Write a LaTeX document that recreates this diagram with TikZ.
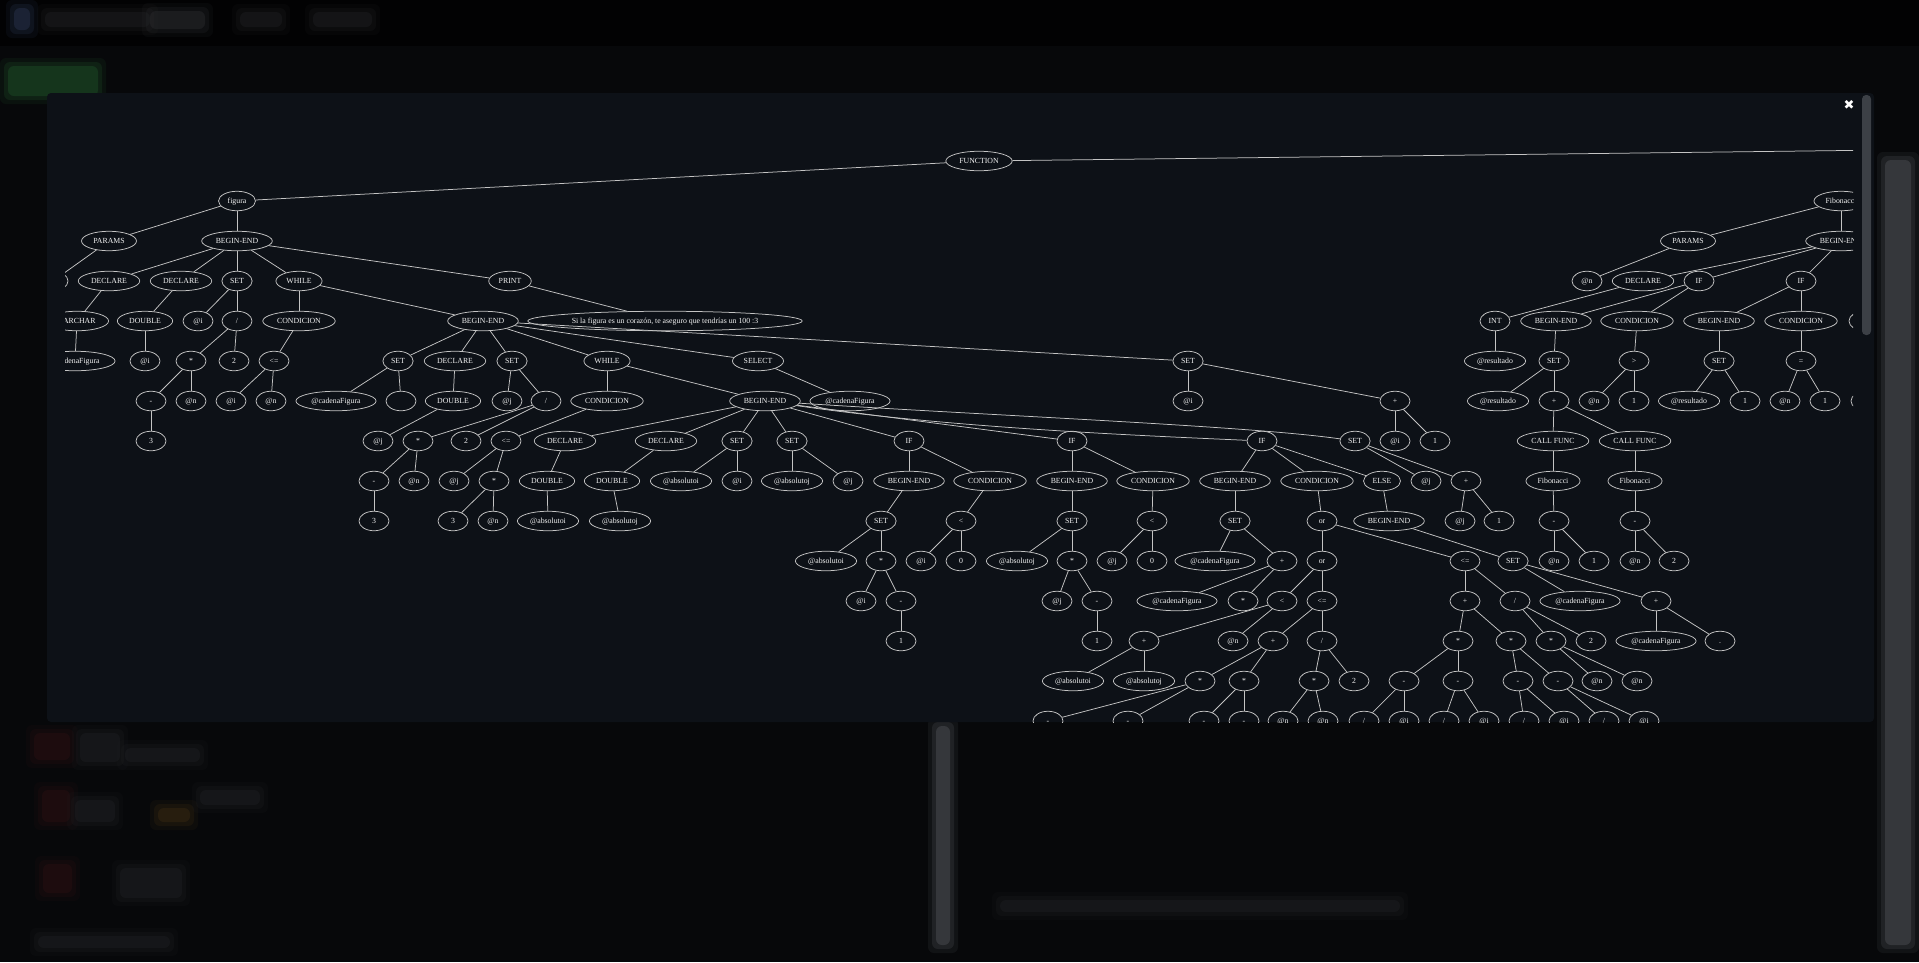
\documentclass[tikz,border=0pt]{standalone}
\usepackage{fontspec}
\usetikzlibrary{shapes.geometric}
\newfontfamily\nf{Liberation Serif}
\newfontfamily\dv{DejaVu Sans}
\definecolor{pagebg}{HTML}{07080A}
\definecolor{headbg}{HTML}{020203}
\definecolor{modalbg}{HTML}{0D1117}
\definecolor{edgec}{HTML}{C4C4C4}
\definecolor{txtc}{HTML}{F2F2F2}
\definecolor{thumb}{HTML}{3C4046}
\definecolor{blobgreen}{HTML}{1E4F27}
\definecolor{blobred}{HTML}{2A1012}
\definecolor{blobgrey}{HTML}{1E1F22}
\definecolor{blobgrey2}{HTML}{2A2B2E}
\definecolor{blobblue}{HTML}{2A3550}
\definecolor{bloborange}{HTML}{3A2A12}
\definecolor{barc}{HTML}{505256}
\newcommand\softblob[5]{\foreach \s/\o in {8/0.15,4/0.25,0/0.45}{\fill[#5, opacity=\o, rounded corners=6pt] (#1-\s,#2-\s) rectangle (#3+\s,#4+\s);}}
\begin{document}
\begin{tikzpicture}[x=1pt,y=-1pt,
  n/.style={ellipse, draw=edgec, line width=0.75pt, text=txtc, font=\nf\fontsize{7.8pt}{9pt}\selectfont, inner xsep=3.75pt, inner ysep=0pt, minimum width=30pt, minimum height=19.5pt, text height=5.4pt, text depth=0pt},
  lnk/.style={draw=edgec, line width=0.75pt}]
\useasboundingbox (0,0) rectangle (1919,962);
% ---------- blurred page behind the modal ----------
\fill[pagebg] (0,0) rectangle (1919,962);
\fill[headbg] (0,0) rectangle (1919,46);
\softblob{14}{8}{30}{30}{blobblue}
\softblob{45}{12}{150}{27}{blobgrey}
\softblob{150}{11}{205}{29}{blobgrey2}
\softblob{240}{12}{282}{27}{blobgrey}
\softblob{313}{12}{372}{27}{blobgrey}
\softblob{8}{66}{98}{96}{blobgreen}
\softblob{34}{733}{70}{760}{blobred}
\softblob{80}{733}{120}{762}{blobgrey}
\softblob{125}{748}{200}{762}{blobgrey}
\softblob{42}{790}{70}{822}{blobred}
\softblob{75}{800}{115}{822}{blobgrey}
\softblob{158}{808}{190}{822}{bloborange}
\softblob{200}{790}{260}{805}{blobgrey}
\softblob{43}{864}{72}{893}{blobred}
\softblob{120}{868}{182}{898}{blobgrey}
\softblob{38}{936}{170}{948}{blobgrey}
\softblob{1000}{900}{1400}{912}{blobgrey}
\softblob{936}{726}{950}{945}{barc}
\softblob{1885}{160}{1911}{945}{barc}
% ---------- modal ----------
\fill[modalbg, rounded corners=4pt] (47,93) rectangle (1874,722);
\fill[thumb, rounded corners=4pt] (1862,95) rectangle (1871,335);
\node[text=white, font=\dv\fontsize{13pt}{13pt}\selectfont, inner sep=0pt] (close) at (1849,105) {✖};
% ---------- tree ----------
\begin{scope}
\clip (65,93) rectangle (1853,722);
\coordinate (offFn) at (2300,145);
% r0 r1 r2
\node[n] (fn) at (979,161) {FUNCTION};
\node[n] (fig) at (237,201) {figura};
\node[n] (fib1) at (1841,201) {Fibonacci};
\node[n] (par) at (109,241) {PARAMS};
\node[n] (be1) at (237,241) {BEGIN-END};
\node[n] (par2) at (1688,241) {PARAMS};
\node[n] (be8) at (1841,241) {BEGIN-END};
% r3
\node[n] (parc) at (53,281) {};
\node[n] (dec1) at (109,281) {DECLARE};
\node[n] (dec2) at (181,281) {DECLARE};
\node[n] (set1) at (237,281) {SET};
\node[n] (wh1) at (299,281) {WHILE};
\node[n] (prt) at (510,281) {PRINT};
\node[n] (an12) at (1587,281) {@n};
\node[n] (dec6) at (1643,281) {DECLARE};
\node[n] (if4) at (1699,281) {IF};
\node[n] (if5) at (1801,281) {IF};
% r4
\node[n] (varc) at (77,321) {VARCHAR};
\node[n] (dbl1) at (145,321) {DOUBLE};
\node[n] (ai1) at (198,321) {@i};
\node[n] (div1) at (237,321) {/};
\node[n] (cond1) at (299,321) {CONDICION};
\node[n] (be2) at (483,321) {BEGIN-END};
\node[n] (msg) at (665,321) {Si la figura es un corazón, te aseguro que tendrías un 100 :3};
\node[n] (int) at (1495,321) {INT};
\node[n] (be9) at (1556,321) {BEGIN-END};
\node[n] (cond6) at (1637,321) {CONDICION};
\node[n] (be10) at (1719,321) {BEGIN-END};
\node[n] (cond7) at (1801,321) {CONDICION};
\node[n] (part1) at (1864,321) {};
% r5
\node[n] (cad1) at (75,361) {@cadenaFigura};
\node[n] (ai2) at (145,361) {@i};
\node[n] (mul1) at (191,361) {*};
\node[n] (two1) at (234,361) {2};
\node[n] (le1) at (274,361) {<=};
\node[n] (set2) at (398,361) {SET};
\node[n] (dec3) at (455,361) {DECLARE};
\node[n] (set3) at (512,361) {SET};
\node[n] (wh2) at (607,361) {WHILE};
\node[n] (sel) at (758,361) {SELECT};
\node[n] (set4) at (1188,361) {SET};
\node[n] (res1) at (1495,361) {@resultado};
\node[n] (set12) at (1554,361) {SET};
\node[n] (gt) at (1634,361) {>};
\node[n] (set13) at (1719,361) {SET};
\node[n] (eq) at (1801,361) {=};
% r6
\node[n] (neg1) at (151,401) {-};
\node[n] (an1) at (191,401) {@n};
\node[n] (ai3) at (231,401) {@i};
\node[n] (an2) at (271,401) {@n};
\node[n] (cad2) at (336,401) {@cadenaFigura};
\node[n] (blank) at (401,401) {};
\node[n] (dbl2) at (453,401) {DOUBLE};
\node[n] (aj1) at (507,401) {@j};
\node[n] (div2) at (546,401) {/};
\node[n] (cond2) at (607,401) {CONDICION};
\node[n] (be3) at (765,401) {BEGIN-END};
\node[n] (cad3) at (850,401) {@cadenaFigura};
\node[n] (ai4) at (1188,401) {@i};
\node[n] (plus1) at (1395,401) {+};
\node[n] (res2) at (1498,401) {@resultado};
\node[n] (plus8) at (1554,401) {+};
\node[n] (an13) at (1594,401) {@n};
\node[n] (one6) at (1634,401) {1};
\node[n] (res3) at (1689,401) {@resultado};
\node[n] (one7) at (1745,401) {1};
\node[n] (an14) at (1785,401) {@n};
\node[n] (one8) at (1825,401) {1};
\node[n] (part2) at (1866,401) {};
% r7
\node[n] (three1) at (151,441) {3};
\node[n] (aj2) at (378,441) {@j};
\node[n] (mul2) at (418,441) {*};
\node[n] (two2) at (466,441) {2};
\node[n] (le2) at (506,441) {<=};
\node[n] (dec4) at (565,441) {DECLARE};
\node[n] (dec5) at (666,441) {DECLARE};
\node[n] (set5) at (737,441) {SET};
\node[n] (set6) at (792,441) {SET};
\node[n] (if1) at (909,441) {IF};
\node[n] (if2) at (1072,441) {IF};
\node[n] (if3) at (1262,441) {IF};
\node[n] (set7) at (1355,441) {SET};
\node[n] (ai5) at (1395,441) {@i};
\node[n] (one1) at (1435,441) {1};
\node[n] (cf1) at (1553,441) {CALL FUNC};
\node[n] (cf2) at (1635,441) {CALL FUNC};
% r8
\node[n] (neg2) at (374,481) {-};
\node[n] (an3) at (414,481) {@n};
\node[n] (aj3) at (454,481) {@j};
\node[n] (mul3) at (494,481) {*};
\node[n] (dbl3) at (547,481) {DOUBLE};
\node[n] (dbl4) at (612,481) {DOUBLE};
\node[n] (abi1) at (681,481) {@absolutoi};
\node[n] (ai6) at (737,481) {@i};
\node[n] (abj1) at (792,481) {@absolutoj};
\node[n] (aj4) at (848,481) {@j};
\node[n] (be4) at (909,481) {BEGIN-END};
\node[n] (cond3) at (990,481) {CONDICION};
\node[n] (be5) at (1072,481) {BEGIN-END};
\node[n] (cond4) at (1153,481) {CONDICION};
\node[n] (be6) at (1235,481) {BEGIN-END};
\node[n] (cond5) at (1317,481) {CONDICION};
\node[n] (els) at (1382,481) {ELSE};
\node[n] (aj5) at (1426,481) {@j};
\node[n] (plus2) at (1466,481) {+};
\node[n] (fib2) at (1553,481) {Fibonacci};
\node[n] (fib3) at (1635,481) {Fibonacci};
% r9
\node[n] (three2) at (374,521) {3};
\node[n] (three3) at (453,521) {3};
\node[n] (an4) at (493,521) {@n};
\node[n] (abi2) at (548,521) {@absolutoi};
\node[n] (abj2) at (620,521) {@absolutoj};
\node[n] (set8) at (881,521) {SET};
\node[n] (lt1) at (961,521) {<};
\node[n] (set9) at (1072,521) {SET};
\node[n] (lt2) at (1152,521) {<};
\node[n] (set10) at (1235,521) {SET};
\node[n] (or1) at (1322,521) {or};
\node[n] (be7) at (1389,521) {BEGIN-END};
\node[n] (aj6) at (1460,521) {@j};
\node[n] (one2) at (1499,521) {1};
\node[n] (neg3) at (1554,521) {-};
\node[n] (neg4) at (1635,521) {-};
% r10
\node[n] (abi3) at (826,561) {@absolutoi};
\node[n] (mul4) at (881,561) {*};
\node[n] (ai7) at (921,561) {@i};
\node[n] (zero1) at (961,561) {0};
\node[n] (abj3) at (1017,561) {@absolutoj};
\node[n] (mul5) at (1072,561) {*};
\node[n] (aj7) at (1112,561) {@j};
\node[n] (zero2) at (1152,561) {0};
\node[n] (cad4) at (1215,561) {@cadenaFigura};
\node[n] (plus3) at (1282,561) {+};
\node[n] (or2) at (1322,561) {or};
\node[n] (le3) at (1465,561) {<=};
\node[n] (set11) at (1513,561) {SET};
\node[n] (an5) at (1554,561) {@n};
\node[n] (one3) at (1594,561) {1};
\node[n] (an6) at (1635,561) {@n};
\node[n] (two3) at (1674,561) {2};
% r11
\node[n] (ai8) at (861,601) {@i};
\node[n] (neg5) at (901,601) {-};
\node[n] (aj8) at (1057,601) {@j};
\node[n] (neg6) at (1097,601) {-};
\node[n] (cad5) at (1177,601) {@cadenaFigura};
\node[n] (star1) at (1243,601) {*};
\node[n] (lt3) at (1282,601) {<};
\node[n] (le4) at (1322,601) {<=};
\node[n] (plus4) at (1465,601) {+};
\node[n] (div3) at (1515,601) {/};
\node[n] (cad6) at (1580,601) {@cadenaFigura};
\node[n] (plus5) at (1656,601) {+};
% r12
\node[n] (one4) at (901,641) {1};
\node[n] (one5) at (1097,641) {1};
\node[n] (plus6) at (1144,641) {+};
\node[n] (an7) at (1233,641) {@n};
\node[n] (plus7) at (1273,641) {+};
\node[n] (div4) at (1322,641) {/};
\node[n] (mul6) at (1458,641) {*};
\node[n] (mul7) at (1511,641) {*};
\node[n] (mul8) at (1551,641) {*};
\node[n] (two4) at (1591,641) {2};
\node[n] (cad7) at (1656,641) {@cadenaFigura};
\node[n] (dot) at (1720,641) {.};
% r13
\node[n] (abi4) at (1073,681) {@absolutoi};
\node[n] (abj4) at (1144,681) {@absolutoj};
\node[n] (mul9) at (1200,681) {*};
\node[n] (mul10) at (1244,681) {*};
\node[n] (mul11) at (1314,681) {*};
\node[n] (two5) at (1354,681) {2};
\node[n] (neg7) at (1404,681) {-};
\node[n] (neg8) at (1458,681) {-};
\node[n] (neg9) at (1518,681) {-};
\node[n] (neg10) at (1558,681) {-};
\node[n] (an8) at (1597,681) {@n};
\node[n] (an9) at (1637,681) {@n};
% r14
\node[n] (n11) at (1048,721) {-};
\node[n] (n12) at (1128,721) {-};
\node[n] (n13) at (1204,721) {-};
\node[n] (n14) at (1244,721) {-};
\node[n] (an10) at (1283,721) {@n};
\node[n] (an11) at (1323,721) {@n};
\node[n] (d5) at (1364,721) {/};
\node[n] (ai9) at (1404,721) {@i};
\node[n] (d6) at (1444,721) {/};
\node[n] (ai10) at (1484,721) {@i};
\node[n] (d7) at (1524,721) {/};
\node[n] (ai11) at (1564,721) {@i};
\node[n] (d8) at (1604,721) {/};
\node[n] (ai12) at (1644,721) {@i};
% ---------- edges ----------
\draw[lnk] (fn) -- (fig);
\draw[lnk] (fn) -- (offFn);
\draw[lnk] (fig) -- (par);
\draw[lnk] (fig) -- (be1);
\draw[lnk] (par) -- (parc);
\foreach \c in {dec1,dec2,set1,wh1,prt} \draw[lnk] (be1) -- (\c);
\draw[lnk] (dec1) -- (varc);
\draw[lnk] (varc) -- (cad1);
\draw[lnk] (dec2) -- (dbl1);
\draw[lnk] (dbl1) -- (ai2);
\draw[lnk] (set1) -- (ai1);
\draw[lnk] (set1) -- (div1);
\draw[lnk] (div1) -- (mul1);
\draw[lnk] (div1) -- (two1);
\draw[lnk] (mul1) -- (neg1);
\draw[lnk] (mul1) -- (an1);
\draw[lnk] (neg1) -- (three1);
\draw[lnk] (wh1) -- (cond1);
\draw[lnk] (wh1) -- (be2);
\draw[lnk] (cond1) -- (le1);
\draw[lnk] (le1) -- (ai3);
\draw[lnk] (le1) -- (an2);
\draw[lnk] (prt) -- (msg);
\foreach \c in {set2,dec3,set3,wh2,sel,set4} \draw[lnk] (be2) -- (\c);
\draw[lnk] (set2) -- (cad2);
\draw[lnk] (set2) -- (blank);
\draw[lnk] (dec3) -- (dbl2);
\draw[lnk] (dbl2) -- (aj2);
\draw[lnk] (set3) -- (aj1);
\draw[lnk] (set3) -- (div2);
\draw[lnk] (div2) -- (mul2);
\draw[lnk] (div2) -- (two2);
\draw[lnk] (mul2) -- (neg2);
\draw[lnk] (mul2) -- (an3);
\draw[lnk] (neg2) -- (three2);
\draw[lnk] (wh2) -- (cond2);
\draw[lnk] (wh2) -- (be3);
\draw[lnk] (cond2) -- (le2);
\draw[lnk] (le2) -- (aj3);
\draw[lnk] (le2) -- (mul3);
\draw[lnk] (mul3) -- (three3);
\draw[lnk] (mul3) -- (an4);
\draw[lnk] (sel) -- (cad3);
\draw[lnk] (set4) -- (ai4);
\draw[lnk] (set4) -- (plus1);
\draw[lnk] (plus1) -- (ai5);
\draw[lnk] (plus1) -- (one1);
\foreach \c in {dec4,dec5,set5,set6,if1,if2} \draw[lnk] (be3) -- (\c);
\draw[lnk] (be3) .. controls (950,428) and (1150,436) .. (if3);
\draw[lnk] (be3) .. controls (1000,416) and (1250,426) .. (set7);
\draw[lnk] (dec4) -- (dbl3);
\draw[lnk] (dbl3) -- (abi2);
\draw[lnk] (dec5) -- (dbl4);
\draw[lnk] (dbl4) -- (abj2);
\draw[lnk] (set5) -- (abi1);
\draw[lnk] (set5) -- (ai6);
\draw[lnk] (set6) -- (abj1);
\draw[lnk] (set6) -- (aj4);
\draw[lnk] (if1) -- (be4);
\draw[lnk] (if1) -- (cond3);
\draw[lnk] (be4) -- (set8);
\draw[lnk] (set8) -- (abi3);
\draw[lnk] (set8) -- (mul4);
\draw[lnk] (mul4) -- (ai8);
\draw[lnk] (mul4) -- (neg5);
\draw[lnk] (neg5) -- (one4);
\draw[lnk] (cond3) -- (lt1);
\draw[lnk] (lt1) -- (ai7);
\draw[lnk] (lt1) -- (zero1);
\draw[lnk] (if2) -- (be5);
\draw[lnk] (if2) -- (cond4);
\draw[lnk] (be5) -- (set9);
\draw[lnk] (set9) -- (abj3);
\draw[lnk] (set9) -- (mul5);
\draw[lnk] (mul5) -- (aj8);
\draw[lnk] (mul5) -- (neg6);
\draw[lnk] (neg6) -- (one5);
\draw[lnk] (cond4) -- (lt2);
\draw[lnk] (lt2) -- (aj7);
\draw[lnk] (lt2) -- (zero2);
\draw[lnk] (if3) -- (be6);
\draw[lnk] (if3) -- (cond5);
\draw[lnk] (if3) -- (els);
\draw[lnk] (be6) -- (set10);
\draw[lnk] (set10) -- (cad4);
\draw[lnk] (set10) -- (plus3);
\draw[lnk] (plus3) -- (cad5);
\draw[lnk] (plus3) -- (star1);
\draw[lnk] (cond5) -- (or1);
\draw[lnk] (or1) -- (or2);
\draw[lnk] (or1) -- (le3);
\draw[lnk] (or2) -- (lt3);
\draw[lnk] (or2) -- (le4);
\draw[lnk] (lt3) -- (plus6);
\draw[lnk] (lt3) -- (an7);
\draw[lnk] (plus6) -- (abi4);
\draw[lnk] (plus6) -- (abj4);
\draw[lnk] (le4) -- (plus7);
\draw[lnk] (le4) -- (div4);
\draw[lnk] (plus7) -- (mul9);
\draw[lnk] (plus7) -- (mul10);
\draw[lnk] (mul9) -- (n11);
\draw[lnk] (mul9) -- (n12);
\draw[lnk] (mul10) -- (n13);
\draw[lnk] (mul10) -- (n14);
\draw[lnk] (div4) -- (mul11);
\draw[lnk] (div4) -- (two5);
\draw[lnk] (mul11) -- (an10);
\draw[lnk] (mul11) -- (an11);
\draw[lnk] (le3) -- (plus4);
\draw[lnk] (le3) -- (div3);
\draw[lnk] (plus4) -- (mul6);
\draw[lnk] (plus4) -- (mul7);
\draw[lnk] (mul6) -- (neg7);
\draw[lnk] (mul6) -- (neg8);
\draw[lnk] (mul7) -- (neg9);
\draw[lnk] (mul7) -- (neg10);
\draw[lnk] (neg7) -- (d5);
\draw[lnk] (neg7) -- (ai9);
\draw[lnk] (neg8) -- (d6);
\draw[lnk] (neg8) -- (ai10);
\draw[lnk] (neg9) -- (d7);
\draw[lnk] (neg9) -- (ai11);
\draw[lnk] (neg10) -- (d8);
\draw[lnk] (neg10) -- (ai12);
\draw[lnk] (div3) -- (mul8);
\draw[lnk] (div3) -- (two4);
\draw[lnk] (mul8) -- (an8);
\draw[lnk] (mul8) -- (an9);
\draw[lnk] (els) -- (be7);
\draw[lnk] (be7) -- (set11);
\draw[lnk] (set11) -- (cad6);
\draw[lnk] (set11) -- (plus5);
\draw[lnk] (plus5) -- (cad7);
\draw[lnk] (plus5) -- (dot);
\draw[lnk] (set7) -- (aj5);
\draw[lnk] (set7) -- (plus2);
\draw[lnk] (plus2) -- (aj6);
\draw[lnk] (plus2) -- (one2);
% Fibonacci subtree
\draw[lnk] (fib1) -- (par2);
\draw[lnk] (fib1) -- (be8);
\draw[lnk] (par2) -- (an12);
\draw[lnk] (be8) -- (dec6);
\draw[lnk] (be8) -- (if4);
\draw[lnk] (be8) -- (if5);
\draw[lnk] (dec6) -- (int);
\draw[lnk] (int) -- (res1);
\draw[lnk] (if4) -- (be9);
\draw[lnk] (if4) -- (cond6);
\draw[lnk] (be9) -- (set12);
\draw[lnk] (set12) -- (res2);
\draw[lnk] (set12) -- (plus8);
\draw[lnk] (plus8) -- (cf1);
\draw[lnk] (plus8) -- (cf2);
\draw[lnk] (cf1) -- (fib2);
\draw[lnk] (fib2) -- (neg3);
\draw[lnk] (neg3) -- (an5);
\draw[lnk] (neg3) -- (one3);
\draw[lnk] (cf2) -- (fib3);
\draw[lnk] (fib3) -- (neg4);
\draw[lnk] (neg4) -- (an6);
\draw[lnk] (neg4) -- (two3);
\draw[lnk] (cond6) -- (gt);
\draw[lnk] (gt) -- (an13);
\draw[lnk] (gt) -- (one6);
\draw[lnk] (if5) -- (be10);
\draw[lnk] (if5) -- (cond7);
\draw[lnk] (be10) -- (set13);
\draw[lnk] (set13) -- (res3);
\draw[lnk] (set13) -- (one7);
\draw[lnk] (cond7) -- (eq);
\draw[lnk] (eq) -- (an14);
\draw[lnk] (eq) -- (one8);
\end{scope}
\end{tikzpicture}
\end{document}
